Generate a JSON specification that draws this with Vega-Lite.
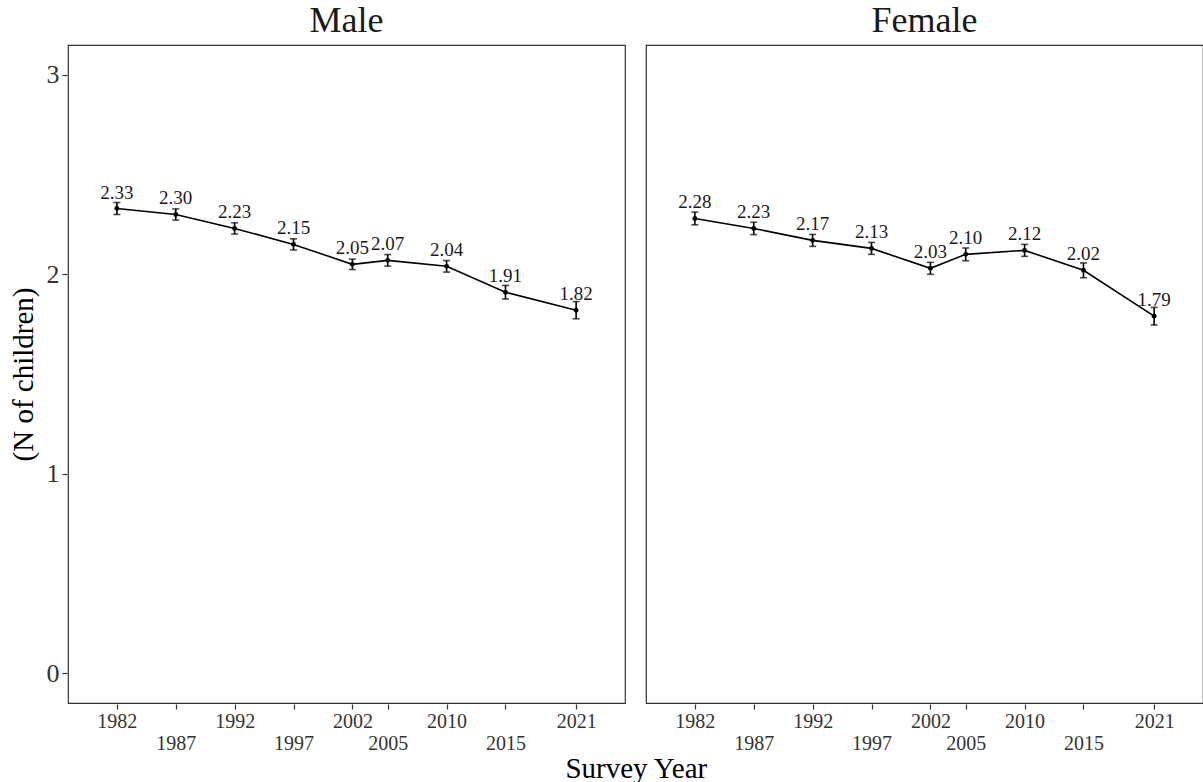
{
  "$schema": "https://vega.github.io/schema/vega-lite/v6.json",
  "background": "white",
  "padding": {"left": 9, "top": 3, "right": 0, "bottom": 0},
  "title": {
    "text": "Survey Year",
    "orient": "bottom",
    "anchor": "middle",
    "font": "Liberation Serif",
    "fontSize": 29,
    "fontWeight": "normal",
    "color": "black",
    "offset": 2,
    "dx": 30
  },
  "data": {
    "values": [
      {"sex": "Male", "year": 1982, "mean": 2.33, "lo": 2.30, "hi": 2.36},
      {"sex": "Male", "year": 1987, "mean": 2.30, "lo": 2.272, "hi": 2.328},
      {"sex": "Male", "year": 1992, "mean": 2.23, "lo": 2.202, "hi": 2.258},
      {"sex": "Male", "year": 1997, "mean": 2.15, "lo": 2.122, "hi": 2.178},
      {"sex": "Male", "year": 2002, "mean": 2.05, "lo": 2.024, "hi": 2.076},
      {"sex": "Male", "year": 2005, "mean": 2.07, "lo": 2.041, "hi": 2.099},
      {"sex": "Male", "year": 2010, "mean": 2.04, "lo": 2.011, "hi": 2.069},
      {"sex": "Male", "year": 2015, "mean": 1.91, "lo": 1.876, "hi": 1.944},
      {"sex": "Male", "year": 2021, "mean": 1.82, "lo": 1.777, "hi": 1.863},
      {"sex": "Female", "year": 1982, "mean": 2.28, "lo": 2.248, "hi": 2.312},
      {"sex": "Female", "year": 1987, "mean": 2.23, "lo": 2.199, "hi": 2.261},
      {"sex": "Female", "year": 1992, "mean": 2.17, "lo": 2.14, "hi": 2.20},
      {"sex": "Female", "year": 1997, "mean": 2.13, "lo": 2.10, "hi": 2.16},
      {"sex": "Female", "year": 2002, "mean": 2.03, "lo": 2.00, "hi": 2.06},
      {"sex": "Female", "year": 2005, "mean": 2.10, "lo": 2.068, "hi": 2.132},
      {"sex": "Female", "year": 2010, "mean": 2.12, "lo": 2.09, "hi": 2.15},
      {"sex": "Female", "year": 2015, "mean": 2.02, "lo": 1.983, "hi": 2.057},
      {"sex": "Female", "year": 2021, "mean": 1.79, "lo": 1.746, "hi": 1.834}
    ]
  },
  "facet": {
    "column": {
      "field": "sex",
      "type": "nominal",
      "sort": ["Male", "Female"],
      "title": null,
      "header": {
        "labelFont": "Liberation Serif",
        "labelFontSize": 36,
        "labelColor": "#1a1a1a",
        "labelPadding": 4
      }
    }
  },
  "spacing": 19,
  "spec": {
    "width": 557,
    "height": 658,
    "encoding": {
      "x": {
        "field": "year",
        "type": "quantitative",
        "title": null,
        "scale": {"domain": [1977.85, 2025.15], "nice": false, "zero": false},
        "axis": {
          "values": [1982, 1987, 1992, 1997, 2002, 2005, 2010, 2015, 2021],
          "format": "d",
          "labelExpr": "indexof([1987, 1997, 2005, 2015], datum.value) >= 0 ? ['', datum.label] : datum.label",
          "labelLineHeight": 22,
          "labelOverlap": false,
          "labelFlush": false,
          "labelFontSize": 20,
          "labelPadding": 2
        }
      }
    },
    "layer": [
      {
        "mark": {"type": "line", "color": "black", "strokeWidth": 1.6},
        "encoding": {
          "y": {
            "field": "mean",
            "type": "quantitative",
            "title": "(N of children)",
            "scale": {"domain": [-0.15, 3.15], "nice": false, "zero": false},
            "axis": {"values": [0, 1, 2, 3], "format": "d", "labelFontSize": 26, "labelPadding": 3, "titlePadding": 8}
          }
        }
      },
      {
        "mark": {"type": "errorbar", "color": "black", "thickness": 1.6, "ticks": {"size": 7, "color": "black"}},
        "encoding": {
          "y": {"field": "lo", "type": "quantitative", "title": "(N of children)"},
          "y2": {"field": "hi"}
        }
      },
      {
        "mark": {"type": "point", "filled": true, "color": "black", "opacity": 1, "size": 24},
        "encoding": {
          "y": {"field": "mean", "type": "quantitative", "title": "(N of children)"}
        }
      },
      {
        "mark": {"type": "text", "font": "Liberation Serif", "fontSize": 19, "color": "#1a1a1a", "baseline": "alphabetic", "dy": -10},
        "encoding": {
          "y": {"field": "mean", "type": "quantitative", "title": "(N of children)"},
          "text": {"field": "mean", "type": "quantitative", "format": ".2f"}
        }
      }
    ]
  },
  "config": {
    "font": "Liberation Serif",
    "view": {"stroke": "#333333", "strokeWidth": 1.2},
    "axis": {
      "grid": false,
      "domain": false,
      "tickColor": "#333333",
      "tickWidth": 1.2,
      "tickSize": 5,
      "labelFont": "Liberation Serif",
      "labelColor": "#333333",
      "titleFont": "Liberation Serif",
      "titleFontSize": 29,
      "titleFontWeight": "normal",
      "titleColor": "black"
    }
  }
}
